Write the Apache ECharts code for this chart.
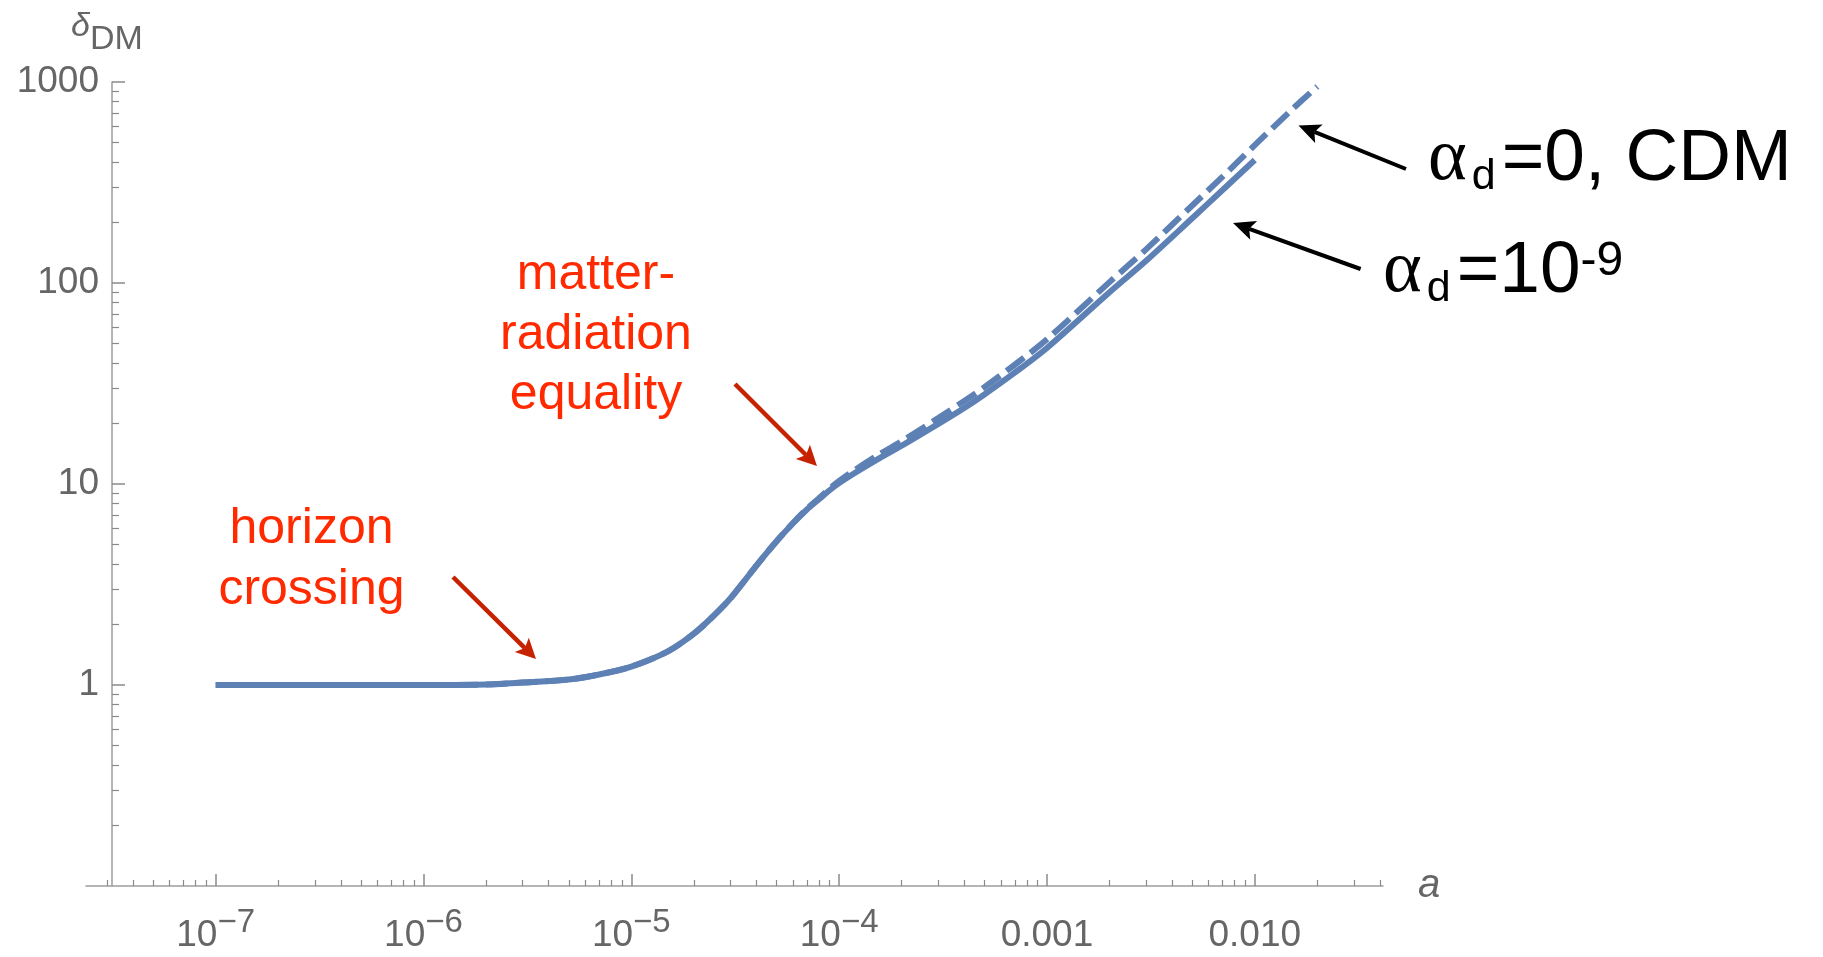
<!DOCTYPE html>
<html><head><meta charset="utf-8">
<script src="https://cdn.jsdelivr.net/npm/echarts@6/dist/echarts.min.js"></script>
<style>html,body{margin:0;padding:0;background:#fff}#c{width:1823px;height:957px}</style>
</head><body><div id="c"></div>
<script>
// ---- data ----
const aSolid = [1e-7, 3e-7, 1e-6, 2e-6, 3e-6, 5e-6, 7e-6, 1e-5, 1.5e-5, 2e-5, 2.5e-5, 3e-5, 4e-5, 5e-5, 6e-5, 7e-5, 8e-5, 9e-5, 1e-4, 1.2e-4, 1.5e-4, 2e-4, 3e-4, 4e-4, 5e-4, 7e-4, 1e-3, 2e-3, 3e-3, 5e-3, 7e-3, 1e-2];
const deltaSolid = [1.0, 1.0, 1.0, 1.005, 1.028, 1.065, 1.128, 1.235, 1.47, 1.80, 2.22, 2.70, 3.93, 5.19, 6.38, 7.47, 8.40, 9.31, 10.1, 11.4, 13.1, 15.5, 19.9, 23.9, 27.9, 35.8, 47.5, 89.9, 129, 210, 290, 409];
const aCDM = [1e-7, 3e-7, 1e-6, 2e-6, 3e-6, 5e-6, 7e-6, 1e-5, 1.5e-5, 2e-5, 2.5e-5, 3e-5, 4e-5, 5e-5, 6e-5, 7e-5, 8e-5, 9e-5, 1e-4, 1.2e-4, 1.5e-4, 2e-4, 3e-4, 4e-4, 5e-4, 7e-4, 1e-3, 2e-3, 3e-3, 5e-3, 7e-3, 1e-2, 1.5e-2, 2e-2];
const deltaCDM = [1.0, 1.0, 1.0, 1.005, 1.028, 1.065, 1.128, 1.235, 1.47, 1.80, 2.22, 2.70, 3.93, 5.19, 6.40, 7.52, 8.50, 9.48, 10.35, 11.8, 13.7, 16.3, 21.3, 25.9, 30.3, 39.2, 52.5, 101, 147, 243, 338, 485, 725, 950];

const xMajorTicks = [1e-7, 1e-6, 1e-5, 1e-4, 1e-3, 1e-2];
const xTickBase = ['10', '10', '10', '10', '0.001', '0.010'];
const xTickExp = ['\u22127', '\u22126', '\u22125', '\u22124', '', ''];
const yMajorTicks = [1, 10, 100, 1000];
const yTickLabels = ['1', '10', '100', '1000'];
const xRange = [2.377e-8, 0.0414];
const yRange = [0.1, 1000];

function minorTicks(e0, e1, lo, hi) {
  const out = [];
  for (let e = e0; e <= e1; e++) for (let m = 2; m <= 9; m++) {
    const v = parseFloat((m * Math.pow(10, e)).toPrecision(6));
    if (v >= lo && v <= hi) out.push(v);
  }
  return out;
}
const xMinor = minorTicks(-8, -2, xRange[0], xRange[1]);
const yMinor = minorTicks(-1, 2, yRange[0], yRange[1]);

// ---- styles ----
const lineBlue = '#5E81B5';
const axisGrey = '#9d9d9d', tickGrey = '#8a8a8a', labelGrey = '#666666';
const FONT = 'Liberation Sans';

function arrow(x1, y1, x2, y2, color, lw, hl, hw) {
  const dx = x2 - x1, dy = y2 - y1, L = Math.hypot(dx, dy);
  const ux = dx / L, uy = dy / L, nx = -uy, ny = ux;
  const bx = x2 - hl * ux, by = y2 - hl * uy;
  const kx = x2 - 0.78 * hl * ux, ky = y2 - 0.78 * hl * uy;
  return [
    { type: 'line', z: 100, shape: { x1: x1, y1: y1, x2: kx, y2: ky }, style: { stroke: color, lineWidth: lw } },
    { type: 'polygon', z: 101, shape: { points: [[x2, y2], [bx + nx * hw / 2, by + ny * hw / 2], [kx, ky], [bx - nx * hw / 2, by - ny * hw / 2]] }, style: { fill: color } }
  ];
}

const redText = '#FF2A00', redArrow = '#C72200';
const alphaRich = {
  a: { fontFamily: 'Liberation Serif', fontSize: 74, lineHeight: 72, verticalAlign: 'middle', fill: '#000', padding: [0, 2, 0, 0] },
  s: { fontFamily: FONT, fontSize: 43, height: 37, lineHeight: 37, verticalAlign: 'bottom', fill: '#000', padding: [0, 6, 0, 3] },
  m: { fontFamily: FONT, fontSize: 73, lineHeight: 72, verticalAlign: 'middle', fill: '#000' },
  p: { fontFamily: FONT, fontSize: 48, height: 51, lineHeight: 51, verticalAlign: 'top', fill: '#000' }
};
const graphics = [].concat(
  arrow(453, 577, 536, 659, redArrow, 4.5, 20, 20),
  arrow(735, 384, 817, 466, redArrow, 4.5, 20, 20),
  arrow(1406, 169, 1298.5, 125.5, '#000', 4, 22, 20),
  arrow(1360.6, 269, 1233, 223, '#000', 4, 22, 20),
  [
    { type: 'text', x: 596, y: 245, z: 100, style: { text: 'matter-\nradiation\nequality', align: 'center', verticalAlign: 'top', fontFamily: FONT, fontSize: 50, lineHeight: 60, fill: redText } },
    { type: 'text', x: 311.5, y: 499, z: 100, style: { text: 'horizon\ncrossing', align: 'center', verticalAlign: 'top', fontFamily: FONT, fontSize: 50, lineHeight: 61, fill: redText } },
    { type: 'text', x: 1428, y: 124, z: 100, style: { text: '{a|\u03b1}{s|d}{m|=0, CDM}', align: 'left', verticalAlign: 'top', rich: alphaRich } },
    { type: 'text', x: 1383, y: 236, z: 100, style: { text: '{a|\u03b1}{s|d}{m|=10}{p|-9}', align: 'left', verticalAlign: 'top', rich: alphaRich } },
    { type: 'text', x: 71, y: 7, z: 100, style: { text: '{d|\u03b4}{s|DM}', align: 'left', verticalAlign: 'top',
        rich: {
          d: { fontFamily: FONT, fontStyle: 'italic', fontSize: 34, lineHeight: 40, verticalAlign: 'middle', fill: labelGrey },
          s: { fontFamily: FONT, fontSize: 34, height: 14, lineHeight: 14, verticalAlign: 'bottom', fill: labelGrey }
        } } },
    { type: 'text', x: 1418, y: 886, z: 100, style: { text: 'a', align: 'left', verticalAlign: 'middle', fontFamily: FONT, fontStyle: 'italic', fontSize: 40, fill: labelGrey } }
  ]
);

function xLabel(v) {
  const e = Math.round(Math.log10(v));
  const i = xMajorTicks.findIndex(t => Math.round(Math.log10(t)) === e);
  if (i < 0) return '';
  return xTickExp[i] ? '{b|' + xTickBase[i] + '}{s|' + xTickExp[i] + '}' : '{b|' + xTickBase[i] + '}';
}
function yLabel(v) {
  const e = Math.round(Math.log10(v));
  const i = yMajorTicks.findIndex(t => Math.round(Math.log10(t)) === e);
  return i < 0 ? '' : yTickLabels[i];
}

const baseX = { type: 'log', min: xRange[0], max: xRange[1], position: 'bottom', gridIndex: 0,
  splitLine: { show: false }, minorTick: { show: false }, minorSplitLine: { show: false } };
const baseY = { type: 'log', min: yRange[0], max: yRange[1], position: 'left', offset: -26, gridIndex: 0,
  splitLine: { show: false }, minorTick: { show: false }, minorSplitLine: { show: false } };

const option = {
  animation: false,
  backgroundColor: '#fff',
  textStyle: { fontFamily: FONT },
  grid: { left: 86, right: 440, top: 82, bottom: 71, containLabel: false, outerBoundsMode: 'none' },
  xAxis: [
    Object.assign({}, baseX, {
      axisLine: { show: true, lineStyle: { color: axisGrey, width: 1.5 } },
      axisTick: { show: true, inside: true, length: 12, customValues: xMajorTicks, lineStyle: { color: tickGrey, width: 1.5 } },
      axisLabel: { show: true, customValues: xMajorTicks, margin: 31, color: labelGrey, formatter: xLabel,
        rich: {
          b: { fontFamily: FONT, fontSize: 37, lineHeight: 37, color: labelGrey, verticalAlign: 'middle' },
          s: { fontFamily: FONT, fontSize: 33, height: 11, lineHeight: 11, color: labelGrey, verticalAlign: 'top' }
        } }
    }),
    Object.assign({}, baseX, {
      axisLine: { show: false },
      axisTick: { show: true, inside: true, length: 6, customValues: xMinor, lineStyle: { color: tickGrey, width: 1.2 } },
      axisLabel: { show: false }
    })
  ],
  yAxis: [
    Object.assign({}, baseY, {
      axisLine: { show: true, lineStyle: { color: axisGrey, width: 1.5 } },
      axisTick: { show: true, inside: true, length: 13, customValues: yMajorTicks, lineStyle: { color: tickGrey, width: 1.5 } },
      axisLabel: { show: true, customValues: yMajorTicks, margin: 13, color: labelGrey, fontSize: 37, fontFamily: FONT, formatter: yLabel }
    }),
    Object.assign({}, baseY, {
      axisLine: { show: false },
      axisTick: { show: true, inside: true, length: 7, customValues: yMinor, lineStyle: { color: tickGrey, width: 1.2 } },
      axisLabel: { show: false }
    })
  ],
  series: [
    { name: 'alpha_d=1e-9', type: 'line', xAxisIndex: 0, yAxisIndex: 0, data: aSolid.map((a, i) => [a, deltaSolid[i]]),
      symbol: 'none', showSymbol: false, smooth: 0.3, z: 3, lineStyle: { color: lineBlue, width: 6 } },
    { name: 'CDM', type: 'line', xAxisIndex: 0, yAxisIndex: 0, data: aCDM.map((a, i) => [a, deltaCDM[i]]),
      symbol: 'none', showSymbol: false, smooth: 0.3, z: 4, lineStyle: { color: lineBlue, width: 6, type: [22, 8] } }
  ],
  graphic: graphics
};

const chart = echarts.init(document.getElementById('c'), null, { renderer: 'canvas' });
chart.setOption(option);
</script>
</body></html>
